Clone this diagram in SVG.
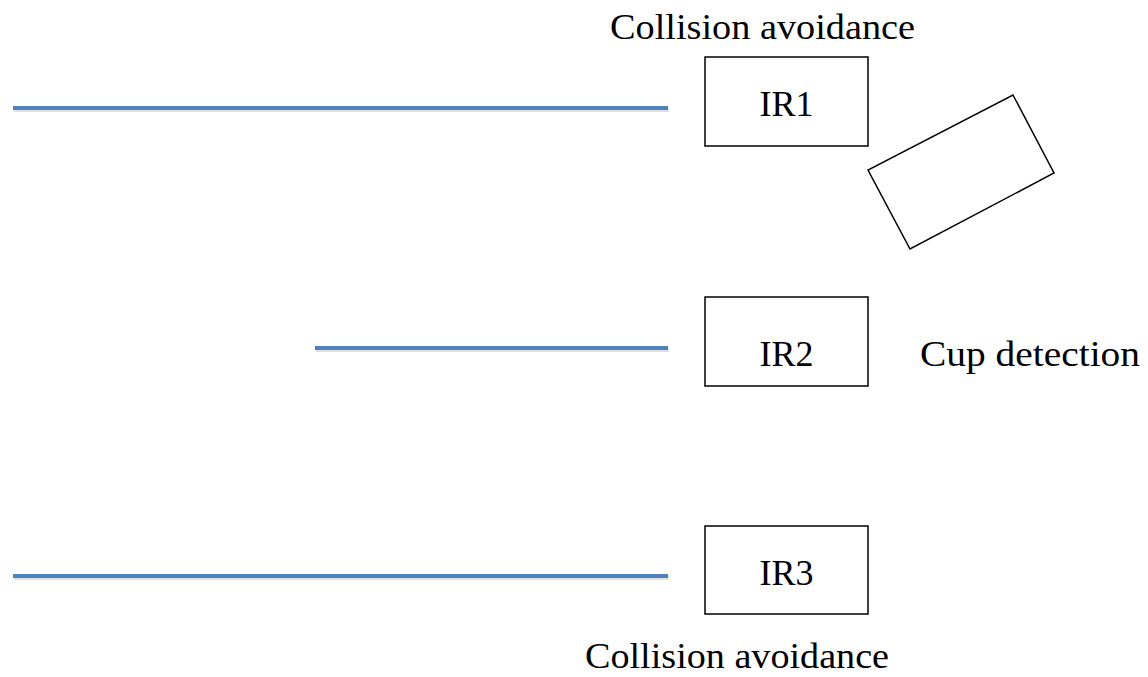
<svg xmlns="http://www.w3.org/2000/svg" width="1148" height="677" viewBox="0 0 1148 677">
<style>
.box{fill:#fff;stroke:#000;stroke-width:1.5}
.lbl{font-family:"Liberation Serif","Times New Roman",serif;font-size:36px;fill:#000}
.line{stroke:#4f81bd;stroke-width:4;fill:none}
.sh{stroke:#000;stroke-opacity:0.12;stroke-width:4;fill:none}
</style>
<rect width="1148" height="677" fill="#fff"/>
<g id="connectors">
<line class="sh" x1="14" y1="110" x2="669" y2="110"/>
<line class="line" x1="13" y1="108" x2="668" y2="108"/>
<line class="sh" x1="316" y1="350" x2="669" y2="350"/>
<line class="line" x1="315" y1="348" x2="668" y2="348"/>
<line class="sh" x1="14" y1="578" x2="669" y2="578"/>
<line class="line" x1="13" y1="576" x2="668" y2="576"/>
</g>
<g id="label-top"><text class="lbl" x="610" y="39" textLength="305" lengthAdjust="spacingAndGlyphs">Collision avoidance</text></g>
<g id="ir1"><rect class="box" x="705" y="57" width="163" height="89"/><text class="lbl" x="786.5" y="116" text-anchor="middle">IR1</text></g>
<g id="cup"><polygon class="box" points="1013,95 1054,173 910,249 868,170"/></g>
<g id="ir2"><rect class="box" x="705" y="297" width="163" height="89"/><text class="lbl" x="786.5" y="366" text-anchor="middle">IR2</text></g>
<g id="label-cup"><text class="lbl" x="920" y="366" textLength="220" lengthAdjust="spacingAndGlyphs">Cup detection</text></g>
<g id="ir3"><rect class="box" x="705" y="526" width="163" height="88"/><text class="lbl" x="786.5" y="585" text-anchor="middle">IR3</text></g>
<g id="label-bottom"><text class="lbl" x="585" y="668" textLength="304" lengthAdjust="spacingAndGlyphs">Collision avoidance</text></g>
</svg>
